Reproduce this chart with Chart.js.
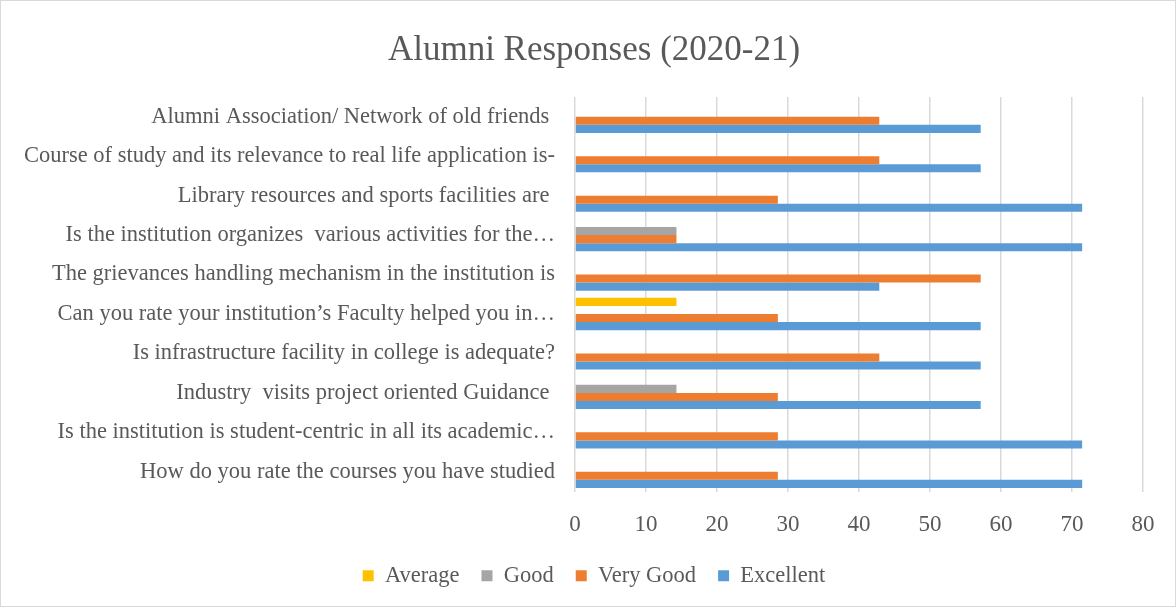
<!DOCTYPE html>
<html><head><meta charset="utf-8">
<script src="https://cdn.jsdelivr.net/npm/chart.js@4/dist/chart.umd.min.js"></script>
<style>
html,body{margin:0;padding:0;background:#fff;}
#wrap{position:relative;width:1176px;height:607px;box-sizing:border-box;border:1px solid #d9d9d9;}
canvas{display:block;}
</style></head><body>
<div id="wrap"><canvas id="c" width="1174" height="605"></canvas></div>
<script>
const categories = [
  "Alumni Association/ Network of old friends ",
  "Course of study and its relevance to real life application is-",
  "Library resources and sports facilities are ",
  "Is the institution organizes  various activities for the\u2026",
  "The grievances handling mechanism in the institution is",
  "Can you rate your institution\u2019s Faculty helped you in\u2026",
  "Is infrastructure facility in college is adequate?",
  "Industry  visits project oriented Guidance ",
  "Is the institution is student-centric in all its academic\u2026",
  "How do you rate the courses you have studied"
];
const average   = [0, 0, 0, 0, 0, 14.29, 0, 0, 0, 0];
const good      = [0, 0, 0, 14.29, 0, 0, 0, 14.29, 0, 0];
const veryGood  = [42.86, 42.86, 28.57, 14.29, 57.14, 28.57, 42.86, 28.57, 28.57, 28.57];
const excellent = [57.14, 57.14, 71.43, 71.43, 42.86, 57.14, 57.14, 57.14, 71.43, 71.43];
const xTicks = [0, 10, 20, 30, 40, 50, 60, 70, 80];

const FONT = "'Liberation Serif','Times New Roman',serif";
const GREY = '#595959';

new Chart(document.getElementById('c'), {
  type: 'bar',
  data: {
    labels: categories,
    datasets: [
      {label: 'Average', data: average, backgroundColor: '#FFC000'},
      {label: 'Good', data: good, backgroundColor: '#A5A5A5'},
      {label: 'Very Good', data: veryGood, backgroundColor: '#ED7D31'},
      {label: 'Excellent', data: excellent, backgroundColor: '#5B9BD5'}
    ]
  },
  options: {
    indexAxis: 'y',
    responsive: false,
    animation: false,
    datasets: {bar: {categoryPercentage: 0.82, barPercentage: 1.0}},
    layout: {padding: {left: 22, right: 10, top: 8, bottom: 9}},
    plugins: {
      title: {display: true, text: 'Alumni Responses (2020-21)', color: GREY,
        font: {family: FONT, size: 35, weight: 'normal'}, padding: {top: 21, bottom: 25}},
      legend: {position: 'bottom',
        labels: {color: GREY, font: {family: FONT, size: 22.5}, boxWidth: 11, boxHeight: 11, padding: 22}},
      tooltip: {enabled: false}
    },
    scales: {
      x: {
        min: 0, max: 80,
        afterBuildTicks: s => { s.ticks = xTicks.map(v => ({value: v})); },
        afterFit: s => { s.height = 51; },
        ticks: {color: GREY, font: {family: FONT, size: 23}, padding: 20},
        grid: {color: '#d9d9d9', lineWidth: 1.5, drawTicks: false},
        border: {display: false}
      },
      y: {
        afterFit: s => { s.width = 552; },
        ticks: {color: GREY, font: {family: FONT, size: 22.5}, padding: 20, autoSkip: false},
        grid: {display: false, drawTicks: false},
        border: {display: false}
      },
      yRight: {
        axis: 'y', position: 'right',
        afterFit: s => { s.width = 22; },
        ticks: {display: false},
        grid: {display: false, drawTicks: false},
        border: {display: false}
      }
    }
  }
});
</script></body></html>
